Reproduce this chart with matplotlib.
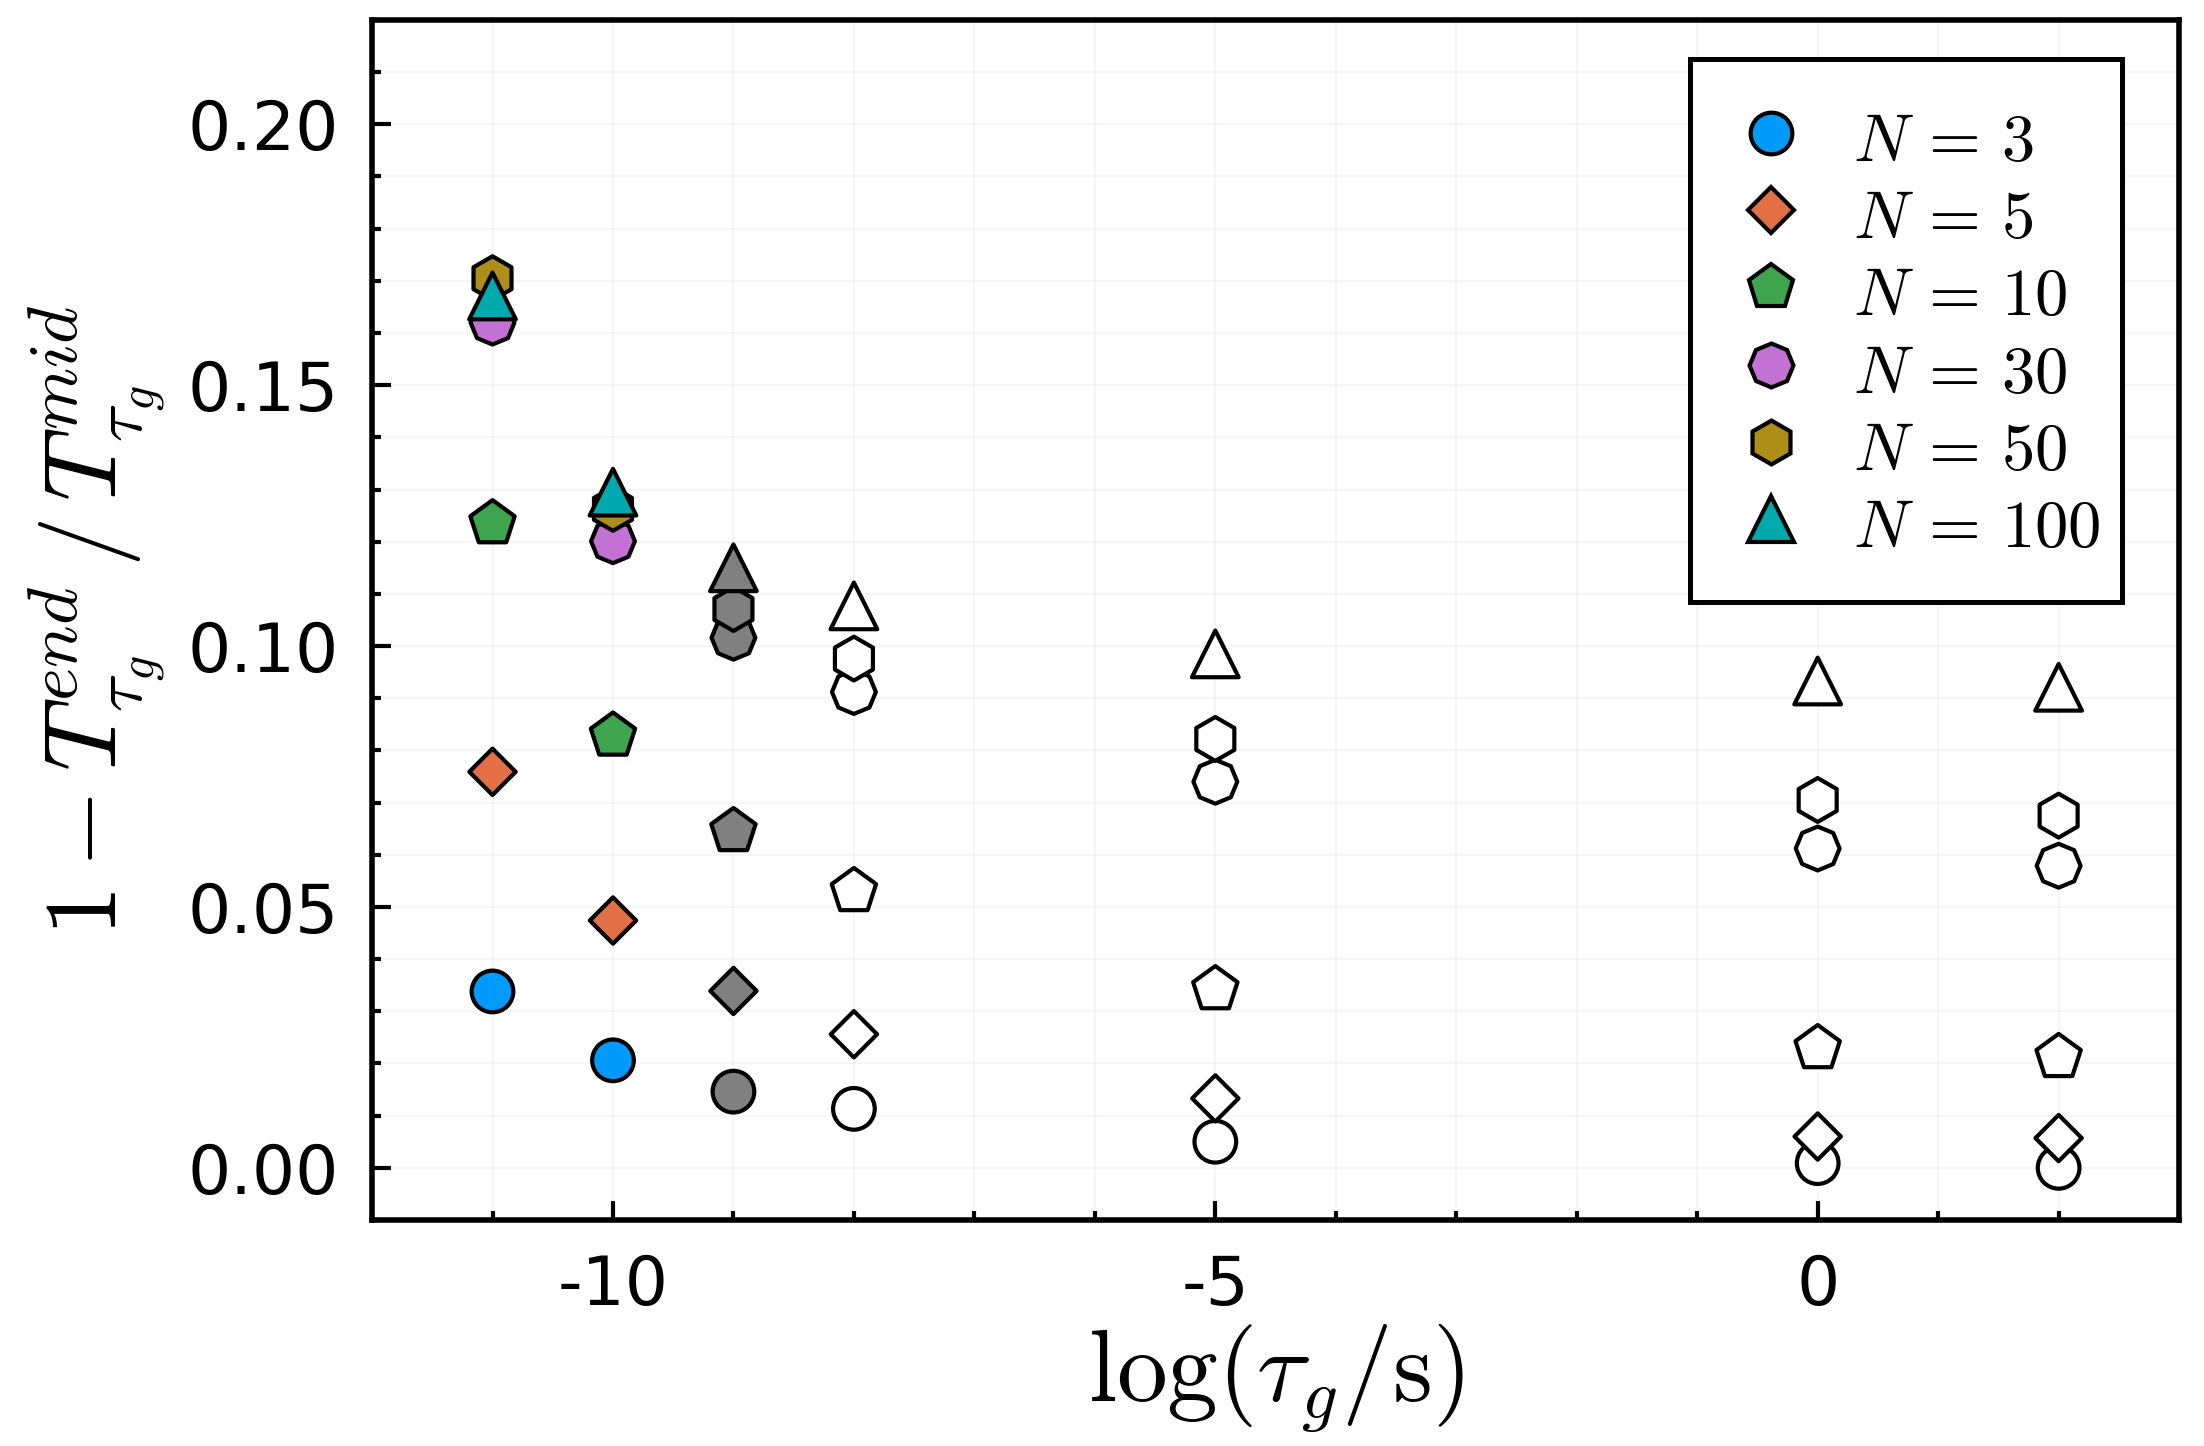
import matplotlib
matplotlib.use("Agg")
import matplotlib.pyplot as plt
from matplotlib.patches import Rectangle
from matplotlib.ticker import MultipleLocator, FormatStrFormatter

plt.rcParams["mathtext.fontset"] = "cm"
plt.rcParams["axes.unicode_minus"] = False
plt.rcParams["font.family"] = "DejaVu Sans"

# ── Data ─────────────────────────────────────────────────────────────
log_tau = [-11, -10, -9, -8, -5, 0, 2]
n_labels = ["3", "5", "10", "30", "50", "100"]

y_n3   = [0.0338, 0.0206, 0.0146, 0.0113, 0.0050, 0.0009, 0.0000]
y_n5   = [0.0759, 0.0474, 0.0339, 0.0256, 0.0133, 0.0060, 0.0057]
y_n10  = [0.1235, 0.0828, 0.0645, 0.0530, 0.0342, 0.0229, 0.0212]
y_n30  = [0.1620, 0.1201, 0.1016, 0.0912, 0.0740, 0.0612, 0.0579]
y_n50  = [0.1705, 0.1263, 0.1071, 0.0976, 0.0822, 0.0705, 0.0675]
y_n100 = [0.1671, 0.1295, 0.1150, 0.1077, 0.0985, 0.0933, 0.0921]
series = [y_n3, y_n5, y_n10, y_n30, y_n50, y_n100]

# ── Style ────────────────────────────────────────────────────────────
colors  = ["#009AFA", "#E36F47", "#3EA44E", "#C371D2", "#AC8E18", "#00A9AD"]
markers = ["o", "D", "p", (8, 0, 0), "h", "^"]
msizes  = [15.0, 11.8, 16.8, 15.8, 15.8, 16.8]
# fill per column: first two in colour, then gray, then open
fill_mode = ["c", "c", "g", "w", "w", "w", "w"]
EDGE_W = 1.5

fig = plt.figure(figsize=(11.02, 7.23), dpi=200)
ax = fig.add_axes([0.1688, 0.1563, 0.8199, 0.8299])

for ys, col, mk, ms, lab in zip(series, colors, markers, msizes, n_labels):
    fcs = [col if f == "c" else ("#808080" if f == "g" else "white") for f in fill_mode]
    ax.scatter(log_tau, ys, s=ms**2, marker=mk, facecolors=fcs,
               edgecolors="black", linewidths=EDGE_W, zorder=3)
    # legend proxy
    ax.plot([], [], ls="none", marker=mk, ms=ms, mfc=col, mec="black",
            mew=EDGE_W, label=rf"$N\,=\,{lab}$")

ax.set_xlim(-12, 3)
ax.set_ylim(-0.01, 0.22)
ax.xaxis.set_major_locator(MultipleLocator(5))
ax.xaxis.set_minor_locator(MultipleLocator(1))
ax.yaxis.set_major_locator(MultipleLocator(0.05))
ax.yaxis.set_minor_locator(MultipleLocator(0.01))
ax.yaxis.set_major_formatter(FormatStrFormatter("%.2f"))
ax.xaxis.set_major_formatter(FormatStrFormatter("%d"))

ax.grid(True, which="both", color="black", alpha=0.035, lw=0.8, zorder=0)
ax.set_axisbelow(True)
for sp in ax.spines.values():
    sp.set_linewidth(2.0)
ax.tick_params(which="both", direction="in", top=False, right=False,
               labelsize=24.5, width=1.5, pad=12)
ax.tick_params(which="major", length=6.8)
ax.tick_params(which="minor", length=3.3)

ax.set_xlabel(r"$\log(\tau_g/\mathrm{s})$", fontsize=36.5)
ax.set_ylabel(r"$1 - T^{end}_{\tau_g}\,/\,T^{mid}_{\tau_g}$", fontsize=36.5)
ax.xaxis.set_label_coords(0.5, -0.085)
ax.xaxis.label.set_va("top")
ax.yaxis.set_label_coords(-0.113, 0.5)

# legend box drawn separately so its padding can match the original
ax.add_patch(Rectangle((0.7294, 0.515), 0.9685 - 0.7294, 0.9675 - 0.515,
                       transform=ax.transAxes, facecolor="white",
                       edgecolor="black", lw=1.8, zorder=5))
leg = ax.legend(loc="upper left", bbox_to_anchor=(0.7515, 0.929),
                borderaxespad=0, borderpad=0, fontsize=24, frameon=False,
                handlelength=1.24, handletextpad=0.6,
                handleheight=1.16, labelspacing=0.11)
leg.set_zorder(6)

fig.savefig("out.png", dpi=200)
